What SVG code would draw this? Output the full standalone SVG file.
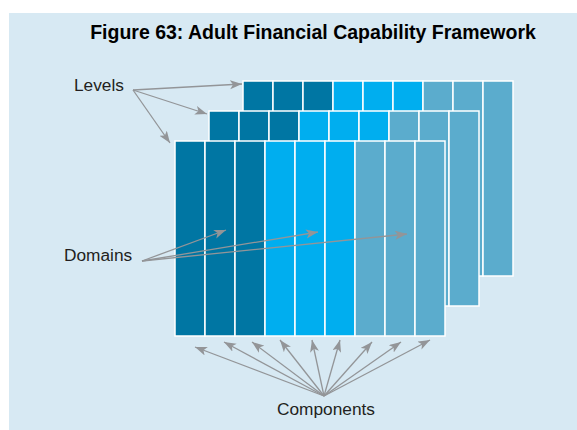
<svg xmlns="http://www.w3.org/2000/svg" width="577" height="430" viewBox="0 0 577 430">
<style>
.bg{fill:#D7E9F3}
.d{fill:#0076A3}
.b{fill:#00AEEF}
.m{fill:#5BACCD}
.col{stroke:#FFFFFF;stroke-width:1.5}
.lbl{font-family:"Liberation Sans",Arial,Helvetica,sans-serif;font-size:17.3px;fill:#231F20}
.title{font-family:"Liberation Sans",Arial,Helvetica,sans-serif;font-size:19.5px;font-weight:bold;fill:#000}
.arr{stroke:#939598;stroke-width:1.3;fill:none;marker-end:url(#ah)}
</style>
<defs>
<marker id="ah" markerUnits="userSpaceOnUse" markerWidth="14" markerHeight="10" refX="12" refY="4.5" orient="auto">
<path d="M0,0 L12,4.5 L0,9 L3,4.5 Z" fill="#939598"/>
</marker>
<g id="layer">
<rect class="col d" x="0" y="0" width="30" height="195"/>
<rect class="col d" x="30" y="0" width="30" height="195"/>
<rect class="col d" x="60" y="0" width="30" height="195"/>
<rect class="col b" x="90" y="0" width="30" height="195"/>
<rect class="col b" x="120" y="0" width="30" height="195"/>
<rect class="col b" x="150" y="0" width="30" height="195"/>
<rect class="col m" x="180" y="0" width="30" height="195"/>
<rect class="col m" x="210" y="0" width="30" height="195"/>
<rect class="col m" x="240" y="0" width="30" height="195"/>
</g>
</defs>
<rect class="bg" x="9" y="13" width="568" height="417"/>
<text id="title" class="title" x="313" y="39" text-anchor="middle">Figure 63: Adult Financial Capability Framework</text>
<g id="level3"><use href="#layer" x="243" y="81"/></g>
<g id="level2"><use href="#layer" x="209" y="111"/></g>
<g id="level1"><use href="#layer" x="175" y="141"/></g>
<g id="label-levels"><text class="lbl" x="74" y="91">Levels</text></g>
<g id="label-domains"><text class="lbl" x="64" y="261">Domains</text></g>
<g id="label-components"><text class="lbl" x="326" y="415" text-anchor="middle">Components</text></g>
<g id="connectors">
<line class="arr" x1="133" y1="90" x2="242" y2="84"/>
<line class="arr" x1="133" y1="90" x2="207" y2="114"/>
<line class="arr" x1="133" y1="90" x2="170" y2="143"/>
<line class="arr" x1="142" y1="261" x2="226" y2="230"/>
<line class="arr" x1="142" y1="261" x2="318" y2="232"/>
<line class="arr" x1="142" y1="261" x2="407" y2="234"/>
<line class="arr" x1="324" y1="396" x2="195" y2="347"/>
<line class="arr" x1="324" y1="396" x2="224" y2="342"/>
<line class="arr" x1="324" y1="396" x2="252" y2="342"/>
<line class="arr" x1="324" y1="396" x2="280" y2="340"/>
<line class="arr" x1="324" y1="396" x2="312" y2="340"/>
<line class="arr" x1="324" y1="396" x2="340" y2="340"/>
<line class="arr" x1="324" y1="396" x2="372" y2="342"/>
<line class="arr" x1="324" y1="396" x2="401" y2="342"/>
<line class="arr" x1="324" y1="396" x2="430" y2="340"/>
</g>
</svg>
